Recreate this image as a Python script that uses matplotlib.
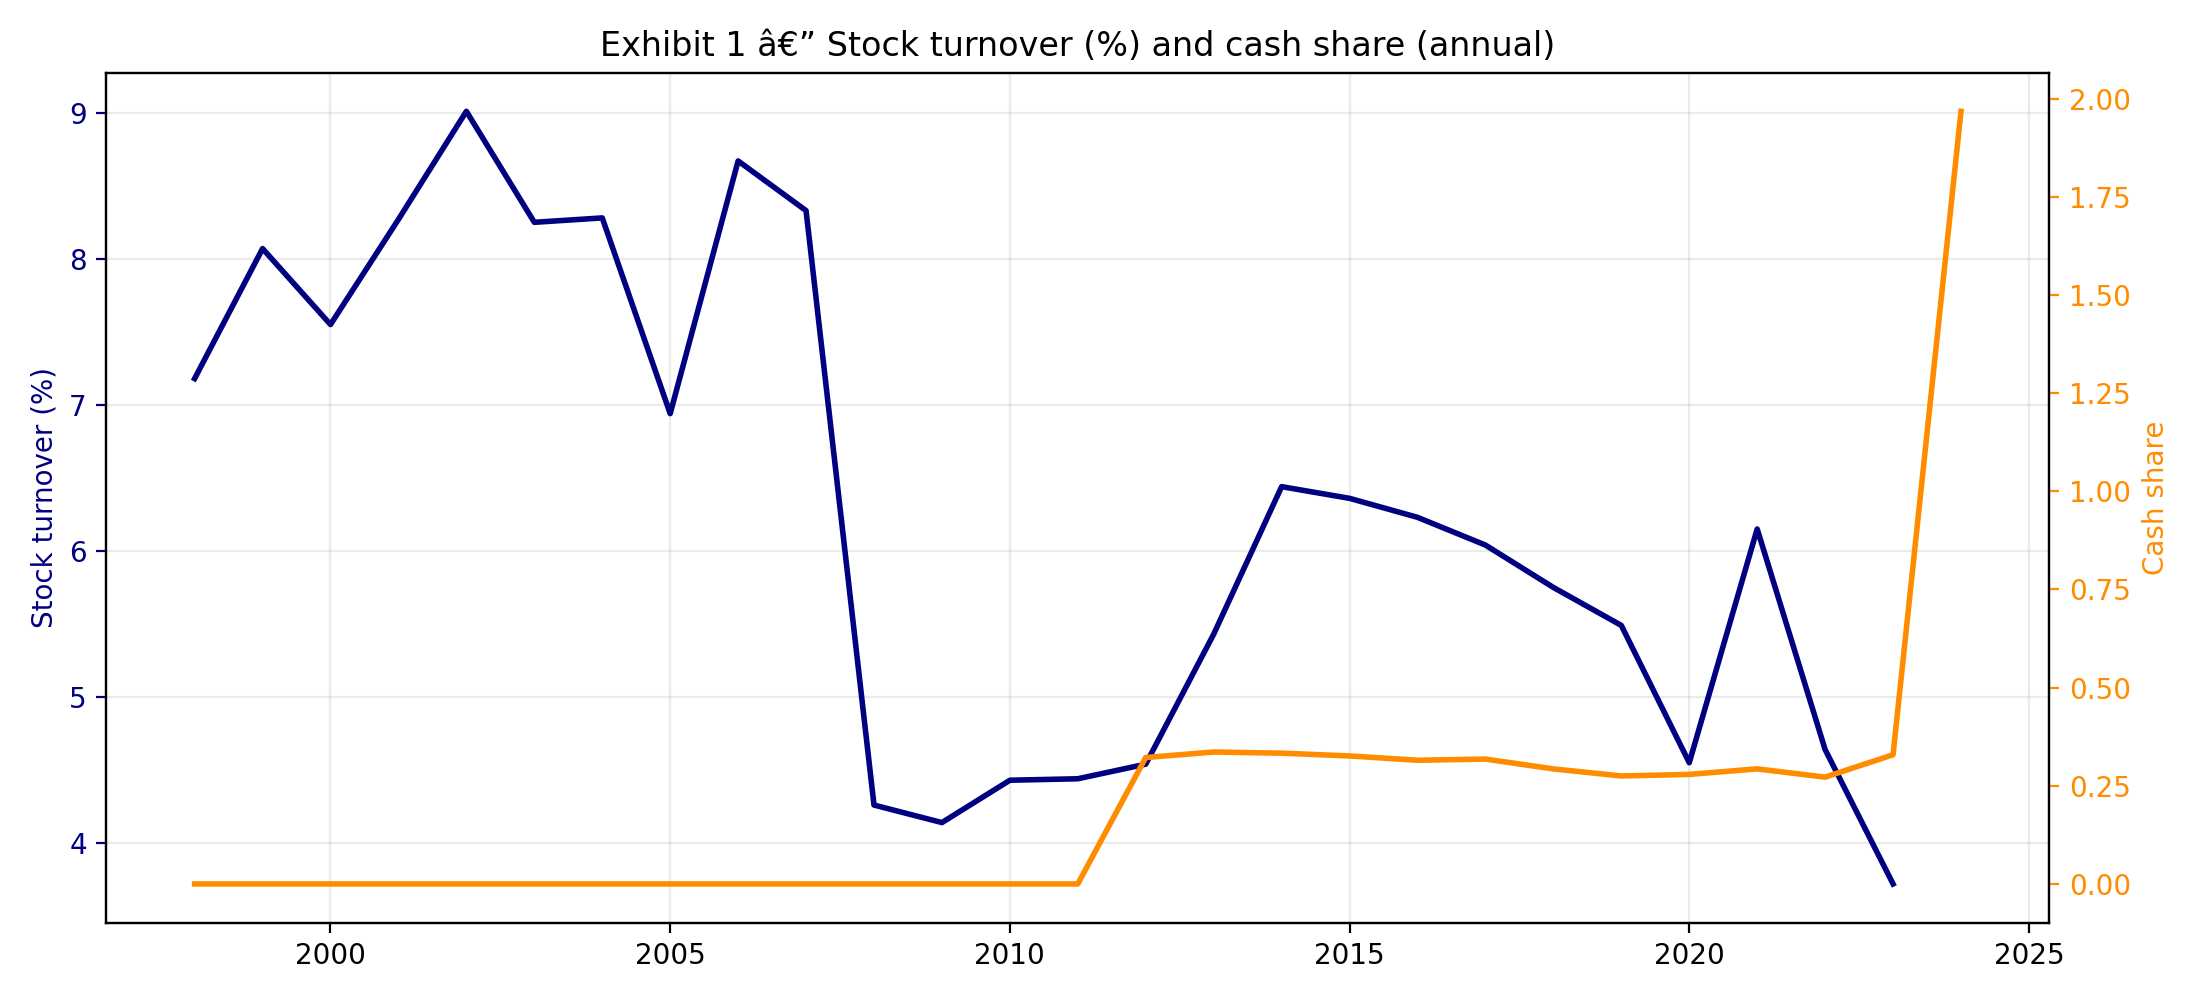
import numpy as np
import matplotlib
matplotlib.use("Agg")
import matplotlib.pyplot as plt

years = list(range(1998, 2025))
turnover = [7.18, 8.07, 7.55, 8.27, 9.01, 8.25, 8.28, 6.94, 8.67, 8.33,
            4.26, 4.14, 4.43, 4.44, 4.54, 5.43, 6.44, 6.36, 6.23, 6.04,
            5.75, 5.49, 4.55, 6.15, 4.64, 3.72]
cash_share = [0.0, 0.0, 0.0, 0.0, 0.0, 0.0, 0.0, 0.0, 0.0, 0.0,
              0.0, 0.0, 0.0, 0.0, 0.322, 0.336, 0.333, 0.326, 0.315, 0.318,
              0.293, 0.275, 0.279, 0.293, 0.272, 0.329, 1.968]

title = "Exhibit 1 \u00e2\u20ac\u201d Stock turnover (%) and cash share (annual)"
c_left = "#000080"
c_right = "#ff8c00"

fig, ax = plt.subplots(figsize=(11, 5), dpi=200)
ax.plot(years[:len(turnover)], turnover, color=c_left, linewidth=2)
ax.set_ylabel("Stock turnover (%)", color=c_left)
ax.tick_params(axis="y", colors=c_left)
ax.grid(True, alpha=0.25)

ax2 = ax.twinx()
ax2.plot(years, cash_share, color=c_right, linewidth=2)
ax2.set_ylabel("Cash share", color=c_right)
ax2.tick_params(axis="y", colors=c_right)

ax.set_title(title)
fig.tight_layout()
fig.savefig("out.png")
